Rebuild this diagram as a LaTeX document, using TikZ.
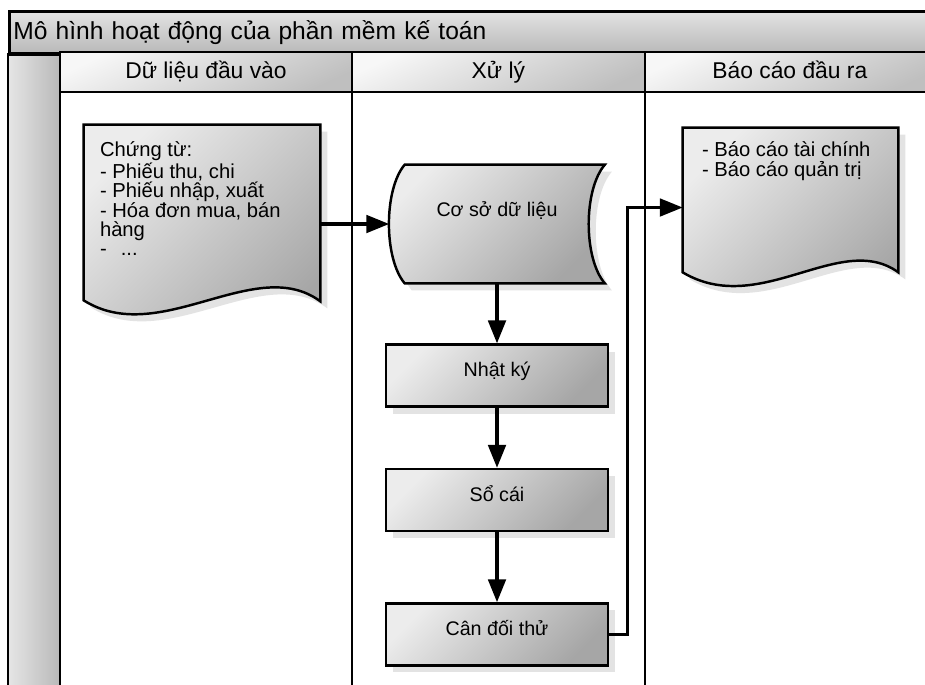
\documentclass[tikz,border=0pt]{standalone}
\usepackage{fontspec}
\setmainfont{Liberation Sans}
\usetikzlibrary{positioning,arrows.meta,calc,shadows,backgrounds}

\begin{document}
\begin{tikzpicture}[
  x=0.02cm, y=-0.02cm,
  >={Triangle[length=13pt, width=10pt]},
  font=\fontsize{11.2}{13}\selectfont,
  node distance=1.2cm,
  lane/.style={line width=1.5pt},
  barfill/.style={draw, line width=1.5pt, top color=gray!22, bottom color=gray!55},
  hdr/.style={draw, line width=1.5pt, top color=gray!6, bottom color=gray!50, shading angle=25, minimum height=0.8cm, inner sep=0pt, outer sep=0pt, text height=10pt, text depth=3pt, font=\fontsize{13}{15}\selectfont},
  shapebg/.style={draw, line width=1.4pt, top color=gray!15, bottom color=gray!70, shading angle=45, drop shadow={opacity=0.22, shadow xshift=4pt, shadow yshift=-4pt}},
  stepbox/.style={shapebg, minimum width=4.45cm, minimum height=1.24cm, text depth=7pt},
  frame/.style={inner sep=0pt},
  doctxt/.style={align=left, inner sep=0pt, font=\fontsize{11.5}{11}\selectfont},
  flow/.style={->, line width=1.8pt},
]

\useasboundingbox (0,0) rectangle (925,684);
\clip (0,0) rectangle (925,684);

% Title bar and lane headers
\node[barfill, anchor=north west, minimum height=0.84cm, text width=18.3cm, inner xsep=0.08cm, inner ysep=0pt, align=left, font=\fontsize{14}{16}\selectfont] (title) at (8,10) {Mô hình hoạt động của phần mềm kế toán};
\path[draw, lane, left color=gray!20, right color=gray!55] (title.south west) rectangle (60,700);

\node[hdr, anchor=north west, minimum width=5.84cm] (h1) at (60,52) {Dữ liệu đầu vào};
\node[hdr, right=0pt of h1, minimum width=5.86cm] (h2) {Xử lý};
\node[hdr, right=0pt of h2, minimum width=5.8cm] (h3) {Báo cáo đầu ra};

% Lane lines
\draw[lane] (h1.north west) -- ++(0,650);
\draw[lane] (h2.north west) -- ++(0,650);
\draw[lane] (h3.north west) -- ++(0,650);

% Input document
\node[frame, minimum width=4.72cm, minimum height=3.76cm] (ct) at (202,219) {};
\node[doctxt, below right=0.34cm and 0.32cm of ct.north west] (cttext) {Chứng từ:\\- Phiếu thu, chi\\- Phiếu nhập, xuất\\- Hóa đơn mua, bán\\hàng\\-\hspace{8pt}...};

% Processing
\node[frame, minimum width=4.3cm, minimum height=2.36cm, text depth=17pt] (csdl) at (497,224) {Cơ sở dữ liệu};
\node[stepbox, below=1.2cm of csdl] (nk) {Nhật ký};
\node[stepbox, below=1.2cm of nk] (sc) {Sổ cái};
\node[stepbox, below=1.4cm of sc] (cdt) {Cân đối thử};

% Output document
\node[frame, minimum width=4.3cm, minimum height=3.18cm] (bc) at (790.5,207.5) {};
\node[doctxt, below right=0.28cm and 0.38cm of bc.north west] (bctext) {- Báo cáo tài chính\\- Báo cáo quản trị};

% Shapes behind the texts
\begin{scope}[on background layer]
  \fill[white] (0,0) rectangle (925,684);
  \path[shapebg] (ct.north west) -- (ct.north east) -- ($(ct.south east)+(0,-12)$)
    .. controls +(-65,-48) and +(76,48) .. ($(ct.south west)+(0,-13)$) -- cycle;
  \path[shapebg] ($(csdl.north west)+(15.5,0)$) -- (csdl.north east)
    .. controls +(-21.5,25) and +(-21.5,-25) .. (csdl.south east)
    -- ($(csdl.south west)+(15.5,0)$)
    .. controls +(-21,-25) and +(-21,25) .. ($(csdl.north west)+(15.5,0)$) -- cycle;
  \path[shapebg] (bc.north west) -- (bc.north east) -- ($(bc.south east)+(0,-15)$)
    .. controls +(-58,-42) and +(77,46) .. ($(bc.south west)+(0,-15)$) -- cycle;
\end{scope}

% Connectors
\draw[flow] (ct.east |- csdl.west) -- (csdl.west);
\draw[flow] (csdl.south) -- (nk.north);
\draw[flow] (nk) -- (sc);
\draw[flow] (sc) -- (cdt);
\draw[flow] (cdt.east) -- ++(18,0) |- (bc.west);

\end{tikzpicture}
\end{document}
